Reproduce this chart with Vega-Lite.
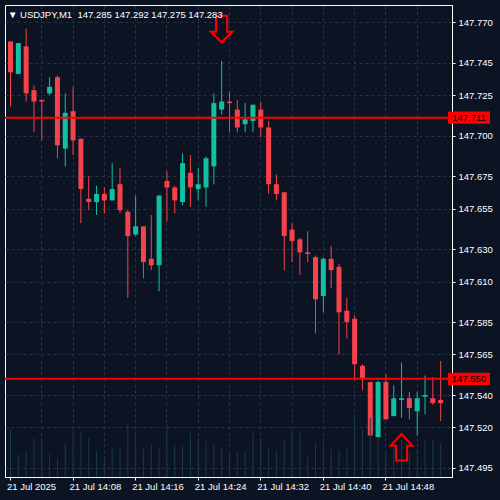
{
  "$schema": "https://vega.github.io/schema/vega-lite/v6.json",
  "width": 447,
  "height": 472,
  "autosize": {"type": "none"},
  "padding": {"left": 5, "top": 5, "right": 48, "bottom": 23},
  "background": "#0c1424",
  "title": {"text": "▼ USDJPY,M1\u00a0\u00a0147.285 147.292 147.275 147.283", "anchor": "start", "frame": "group", "offset": -14, "dx": 3, "fontSize": 9.5, "font": "Liberation Sans", "fontWeight": "normal", "color": "#ffffff"},
  "config": {"view": {"stroke": "#ffffff", "strokeWidth": 1}},
  "datasets": {
    "candles": [
      {"t": "2025-07-21T14:00:00Z", "o": 147.758, "h": 147.758, "l": 147.718, "c": 147.739, "v": 97},
      {"t": "2025-07-21T14:01:00Z", "o": 147.738, "h": 147.757, "l": 147.738, "c": 147.757, "v": 45},
      {"t": "2025-07-21T14:02:00Z", "o": 147.755, "h": 147.766, "l": 147.721, "c": 147.726, "v": 51},
      {"t": "2025-07-21T14:03:00Z", "o": 147.728, "h": 147.731, "l": 147.702, "c": 147.721, "v": 77},
      {"t": "2025-07-21T14:04:00Z", "o": 147.722, "h": 147.722, "l": 147.697, "c": 147.721, "v": 70},
      {"t": "2025-07-21T14:05:00Z", "o": 147.726, "h": 147.736, "l": 147.725, "c": 147.730, "v": 47},
      {"t": "2025-07-21T14:06:00Z", "o": 147.736, "h": 147.737, "l": 147.686, "c": 147.694, "v": 37},
      {"t": "2025-07-21T14:07:00Z", "o": 147.692, "h": 147.726, "l": 147.681, "c": 147.714, "v": 67},
      {"t": "2025-07-21T14:08:00Z", "o": 147.715, "h": 147.730, "l": 147.688, "c": 147.697, "v": 94},
      {"t": "2025-07-21T14:09:00Z", "o": 147.698, "h": 147.698, "l": 147.646, "c": 147.667, "v": 89},
      {"t": "2025-07-21T14:10:00Z", "o": 147.661, "h": 147.675, "l": 147.654, "c": 147.659, "v": 78},
      {"t": "2025-07-21T14:11:00Z", "o": 147.659, "h": 147.669, "l": 147.651, "c": 147.664, "v": 52},
      {"t": "2025-07-21T14:12:00Z", "o": 147.664, "h": 147.668, "l": 147.652, "c": 147.660, "v": 34},
      {"t": "2025-07-21T14:13:00Z", "o": 147.660, "h": 147.683, "l": 147.660, "c": 147.667, "v": 61},
      {"t": "2025-07-21T14:14:00Z", "o": 147.670, "h": 147.680, "l": 147.652, "c": 147.654, "v": 57},
      {"t": "2025-07-21T14:15:00Z", "o": 147.653, "h": 147.654, "l": 147.600, "c": 147.638, "v": 107},
      {"t": "2025-07-21T14:16:00Z", "o": 147.639, "h": 147.663, "l": 147.638, "c": 147.644, "v": 85},
      {"t": "2025-07-21T14:17:00Z", "o": 147.644, "h": 147.644, "l": 147.612, "c": 147.622, "v": 57},
      {"t": "2025-07-21T14:18:00Z", "o": 147.624, "h": 147.651, "l": 147.617, "c": 147.620, "v": 65},
      {"t": "2025-07-21T14:19:00Z", "o": 147.620, "h": 147.663, "l": 147.604, "c": 147.663, "v": 57},
      {"t": "2025-07-21T14:20:00Z", "o": 147.672, "h": 147.678, "l": 147.647, "c": 147.668, "v": 105},
      {"t": "2025-07-21T14:21:00Z", "o": 147.668, "h": 147.669, "l": 147.652, "c": 147.660, "v": 63},
      {"t": "2025-07-21T14:22:00Z", "o": 147.659, "h": 147.689, "l": 147.657, "c": 147.683, "v": 61},
      {"t": "2025-07-21T14:23:00Z", "o": 147.677, "h": 147.688, "l": 147.656, "c": 147.668, "v": 89},
      {"t": "2025-07-21T14:24:00Z", "o": 147.667, "h": 147.680, "l": 147.660, "c": 147.670, "v": 70},
      {"t": "2025-07-21T14:25:00Z", "o": 147.668, "h": 147.687, "l": 147.656, "c": 147.686, "v": 73},
      {"t": "2025-07-21T14:26:00Z", "o": 147.681, "h": 147.726, "l": 147.670, "c": 147.720, "v": 65},
      {"t": "2025-07-21T14:27:00Z", "o": 147.716, "h": 147.746, "l": 147.713, "c": 147.721, "v": 59},
      {"t": "2025-07-21T14:28:00Z", "o": 147.721, "h": 147.727, "l": 147.702, "c": 147.720, "v": 47},
      {"t": "2025-07-21T14:29:00Z", "o": 147.716, "h": 147.722, "l": 147.702, "c": 147.705, "v": 49},
      {"t": "2025-07-21T14:30:00Z", "o": 147.707, "h": 147.720, "l": 147.702, "c": 147.710, "v": 53},
      {"t": "2025-07-21T14:31:00Z", "o": 147.709, "h": 147.719, "l": 147.702, "c": 147.719, "v": 89},
      {"t": "2025-07-21T14:32:00Z", "o": 147.716, "h": 147.721, "l": 147.699, "c": 147.705, "v": 78},
      {"t": "2025-07-21T14:33:00Z", "o": 147.705, "h": 147.709, "l": 147.664, "c": 147.670, "v": 56},
      {"t": "2025-07-21T14:34:00Z", "o": 147.670, "h": 147.676, "l": 147.660, "c": 147.664, "v": 54},
      {"t": "2025-07-21T14:35:00Z", "o": 147.665, "h": 147.665, "l": 147.617, "c": 147.638, "v": 76},
      {"t": "2025-07-21T14:36:00Z", "o": 147.642, "h": 147.646, "l": 147.622, "c": 147.635, "v": 93},
      {"t": "2025-07-21T14:37:00Z", "o": 147.636, "h": 147.637, "l": 147.614, "c": 147.628, "v": 89},
      {"t": "2025-07-21T14:38:00Z", "o": 147.628, "h": 147.641, "l": 147.622, "c": 147.627, "v": 41},
      {"t": "2025-07-21T14:39:00Z", "o": 147.625, "h": 147.626, "l": 147.578, "c": 147.599, "v": 68},
      {"t": "2025-07-21T14:40:00Z", "o": 147.601, "h": 147.625, "l": 147.591, "c": 147.624, "v": 68},
      {"t": "2025-07-21T14:41:00Z", "o": 147.624, "h": 147.632, "l": 147.606, "c": 147.617, "v": 57},
      {"t": "2025-07-21T14:42:00Z", "o": 147.619, "h": 147.621, "l": 147.565, "c": 147.591, "v": 54},
      {"t": "2025-07-21T14:43:00Z", "o": 147.592, "h": 147.600, "l": 147.575, "c": 147.585, "v": 60},
      {"t": "2025-07-21T14:44:00Z", "o": 147.587, "h": 147.589, "l": 147.549, "c": 147.559, "v": 119},
      {"t": "2025-07-21T14:45:00Z", "o": 147.558, "h": 147.559, "l": 147.543, "c": 147.550, "v": 95},
      {"t": "2025-07-21T14:46:00Z", "o": 147.548, "h": 147.548, "l": 147.515, "c": 147.515, "v": 118},
      {"t": "2025-07-21T14:47:00Z", "o": 147.514, "h": 147.549, "l": 147.514, "c": 147.548, "v": 80},
      {"t": "2025-07-21T14:48:00Z", "o": 147.548, "h": 147.553, "l": 147.525, "c": 147.525, "v": 49},
      {"t": "2025-07-21T14:49:00Z", "o": 147.527, "h": 147.546, "l": 147.527, "c": 147.538, "v": 73},
      {"t": "2025-07-21T14:50:00Z", "o": 147.537, "h": 147.560, "l": 147.526, "c": 147.538, "v": 74},
      {"t": "2025-07-21T14:51:00Z", "o": 147.538, "h": 147.542, "l": 147.525, "c": 147.532, "v": 50},
      {"t": "2025-07-21T14:52:00Z", "o": 147.530, "h": 147.542, "l": 147.515, "c": 147.538, "v": 56},
      {"t": "2025-07-21T14:53:00Z", "o": 147.539, "h": 147.552, "l": 147.528, "c": 147.540, "v": 74},
      {"t": "2025-07-21T14:54:00Z", "o": 147.538, "h": 147.551, "l": 147.534, "c": 147.535, "v": 76},
      {"t": "2025-07-21T14:55:00Z", "o": 147.537, "h": 147.561, "l": 147.524, "c": 147.535, "v": 67}
    ],
    "levels": [
      {"price": 147.711, "label": "147.711"},
      {"price": 147.550, "label": "147.550"}
    ],
    "arrows": [
      {"t": "2025-07-21T14:27:00Z", "p": 147.7657, "dir": "down"},
      {"t": "2025-07-21T14:50:00Z", "p": 147.5078, "dir": "up"}
    ]
  },
  "resolve": {"scale": {"y": "independent"}, "axis": {"x": "independent"}},
  "layer": [
    {
      "data": {"name": "candles"},
      "layer": [
        {
          "mark": {"type": "rule", "strokeWidth": 1, "xOffset": 0.5, "clip": true},
          "encoding": {
            "x": {"field": "t", "type": "temporal",
              "scale": {"type": "utc", "domain": [{"year": 2025, "month": 7, "date": 21, "hours": 14, "minutes": 0, "utc": true}, {"year": 2025, "month": 7, "date": 21, "hours": 14, "minutes": 55, "seconds": 52, "milliseconds": 500, "utc": true}]},
              "axis": {"orient": "bottom", "title": null, "grid": false, "tickCount": 40,
                "values": [
                  {"year": 2025, "month": 7, "date": 21, "hours": 14, "minutes": 0, "utc": true},
                  {"year": 2025, "month": 7, "date": 21, "hours": 14, "minutes": 8, "utc": true},
                  {"year": 2025, "month": 7, "date": 21, "hours": 14, "minutes": 16, "utc": true},
                  {"year": 2025, "month": 7, "date": 21, "hours": 14, "minutes": 24, "utc": true},
                  {"year": 2025, "month": 7, "date": 21, "hours": 14, "minutes": 32, "utc": true},
                  {"year": 2025, "month": 7, "date": 21, "hours": 14, "minutes": 40, "utc": true},
                  {"year": 2025, "month": 7, "date": 21, "hours": 14, "minutes": 48, "utc": true}
                ],
                "labelExpr": "utcFormat(datum.value, utcminutes(datum.value) == 0 ? '%d %b %Y' : '%d %b %H:%M')",
                "domainColor": "#ffffff", "tickColor": "#ffffff", "tickSize": 3, "labelColor": "#ffffff",
                "labelAlign": "left", "labelBaseline": "top", "labelPadding": 1, "labelFont": "Liberation Sans", "labelFontSize": 9.5,
                "labelOverlap": false, "labelFlush": false, "labelBound": false, "labelOffset": -3.5}},
            "y": {"field": "l", "type": "quantitative",
              "scale": {"domain": [147.48945, 147.7805], "nice": false, "zero": false},
              "axis": {"orient": "right", "title": null, "tickCount": 40,
                "values": [147.495, 147.52, 147.54, 147.565, 147.585, 147.61, 147.63, 147.655, 147.675, 147.7, 147.725, 147.745, 147.77],
                "format": ".3f", "grid": true, "gridColor": "#273245", "gridDash": [3, 3],
                "domainColor": "#ffffff", "tickColor": "#ffffff", "tickSize": 3, "labelColor": "#ffffff",
                "labelPadding": 3, "labelFont": "Liberation Sans", "labelFontSize": 9.5, "labelOverlap": false, "labelFlush": false, "labelBound": false}},
            "y2": {"field": "h"},
            "color": {"condition": {"test": "datum.c >= datum.o", "value": "#12bfa2"}, "value": "#f6424a"}
          }
        },
        {
          "mark": {"type": "bar", "width": 5, "xOffset": 0.5, "clip": true},
          "encoding": {
            "x": {"field": "t", "type": "temporal", "scale": {"type": "utc", "domain": [{"year": 2025, "month": 7, "date": 21, "hours": 14, "minutes": 0, "utc": true}, {"year": 2025, "month": 7, "date": 21, "hours": 14, "minutes": 55, "seconds": 52, "milliseconds": 500, "utc": true}]}},
            "y": {"field": "o", "type": "quantitative", "scale": {"domain": [147.48945, 147.7805], "nice": false, "zero": false}},
            "y2": {"field": "c"},
            "color": {"condition": {"test": "datum.c >= datum.o", "value": "#12bfa2"}, "value": "#f6424a"}
          }
        },
        {
          "data": {"name": "levels"},
          "mark": {"type": "rule", "strokeWidth": 2, "color": "#ff0000"},
          "encoding": {
            "y": {"field": "price", "type": "quantitative", "scale": {"domain": [147.48945, 147.7805], "nice": false, "zero": false}}
          }
        },
        {
          "data": {"name": "levels"},
          "mark": {"type": "point", "filled": true, "shape": "M -1 -0.29 L 1 -0.29 L 1 0.29 L -1 0.29 Z", "size": 1764, "color": "#ff0000", "opacity": 1, "strokeWidth": 0},
          "encoding": {
            "x": {"datum": {"year": 2025, "month": 7, "date": 21, "hours": 14, "minutes": 58, "seconds": 41, "milliseconds": 250, "utc": true}, "type": "temporal", "scale": {"type": "utc", "domain": [{"year": 2025, "month": 7, "date": 21, "hours": 14, "minutes": 0, "utc": true}, {"year": 2025, "month": 7, "date": 21, "hours": 14, "minutes": 55, "seconds": 52, "milliseconds": 500, "utc": true}]}},
            "y": {"field": "price", "type": "quantitative", "scale": {"domain": [147.48945, 147.7805], "nice": false, "zero": false}}
          }
        },
        {
          "data": {"name": "levels"},
          "mark": {"type": "text", "font": "Liberation Sans", "fontSize": 9.5, "color": "#000000", "align": "center", "baseline": "middle", "dy": 0.5},
          "encoding": {
            "x": {"datum": {"year": 2025, "month": 7, "date": 21, "hours": 14, "minutes": 58, "seconds": 41, "milliseconds": 250, "utc": true}, "type": "temporal", "scale": {"type": "utc", "domain": [{"year": 2025, "month": 7, "date": 21, "hours": 14, "minutes": 0, "utc": true}, {"year": 2025, "month": 7, "date": 21, "hours": 14, "minutes": 55, "seconds": 52, "milliseconds": 500, "utc": true}]}},
            "y": {"field": "price", "type": "quantitative", "scale": {"domain": [147.48945, 147.7805], "nice": false, "zero": false}},
            "text": {"field": "label"}
          }
        }
      ]
    },
    {
      "data": {"name": "candles"},
      "mark": {"type": "bar", "width": 1, "xOffset": 0.5, "color": "#163c40", "clip": true},
      "encoding": {
        "x": {"field": "t", "type": "temporal",
          "scale": {"type": "utc", "domain": [{"year": 2025, "month": 7, "date": 21, "hours": 14, "minutes": 0, "utc": true}, {"year": 2025, "month": 7, "date": 21, "hours": 14, "minutes": 55, "seconds": 52, "milliseconds": 500, "utc": true}]},
          "axis": {"orient": "top", "title": null, "labels": false, "ticks": false, "domain": false, "grid": true, "gridColor": "#273245", "gridDash": [3, 3], "tickCount": 40,
            "values": [
              {"year": 2025, "month": 7, "date": 21, "hours": 14, "minutes": 4, "utc": true},
              {"year": 2025, "month": 7, "date": 21, "hours": 14, "minutes": 8, "utc": true},
              {"year": 2025, "month": 7, "date": 21, "hours": 14, "minutes": 12, "utc": true},
              {"year": 2025, "month": 7, "date": 21, "hours": 14, "minutes": 16, "utc": true},
              {"year": 2025, "month": 7, "date": 21, "hours": 14, "minutes": 20, "utc": true},
              {"year": 2025, "month": 7, "date": 21, "hours": 14, "minutes": 24, "utc": true},
              {"year": 2025, "month": 7, "date": 21, "hours": 14, "minutes": 28, "utc": true},
              {"year": 2025, "month": 7, "date": 21, "hours": 14, "minutes": 32, "utc": true},
              {"year": 2025, "month": 7, "date": 21, "hours": 14, "minutes": 36, "utc": true},
              {"year": 2025, "month": 7, "date": 21, "hours": 14, "minutes": 40, "utc": true},
              {"year": 2025, "month": 7, "date": 21, "hours": 14, "minutes": 44, "utc": true},
              {"year": 2025, "month": 7, "date": 21, "hours": 14, "minutes": 48, "utc": true},
              {"year": 2025, "month": 7, "date": 21, "hours": 14, "minutes": 52, "utc": true}
            ]}},
        "y": {"field": "v", "type": "quantitative", "scale": {"domain": [0, 944], "nice": false, "zero": true}, "axis": null}
      }
    },
    {
      "data": {"name": "arrows"},
      "mark": {"type": "point", "filled": false, "size": 700, "color": "#ff0000", "strokeWidth": 2, "opacity": 1, "xOffset": 0.5},
      "encoding": {
        "x": {"field": "t", "type": "temporal", "axis": null,
          "scale": {"type": "utc", "domain": [{"year": 2025, "month": 7, "date": 21, "hours": 14, "minutes": 0, "utc": true}, {"year": 2025, "month": 7, "date": 21, "hours": 14, "minutes": 55, "seconds": 52, "milliseconds": 500, "utc": true}]}},
        "y": {"field": "p", "type": "quantitative", "scale": {"domain": [147.48945, 147.7805], "nice": false, "zero": false}, "axis": null},
        "shape": {"field": "dir", "type": "nominal", "legend": null,
          "scale": {"domain": ["down", "up"], "range": ["M -0.42 -1 L 0.42 -1 L 0.42 0.2 L 0.81 0.2 L 0 1 L -0.81 0.2 L -0.42 0.2 Z", "M -0.42 1 L 0.42 1 L 0.42 -0.12 L 0.81 -0.12 L 0 -1 L -0.81 -0.12 L -0.42 -0.12 Z"]}}
      }
    }
  ]
}
